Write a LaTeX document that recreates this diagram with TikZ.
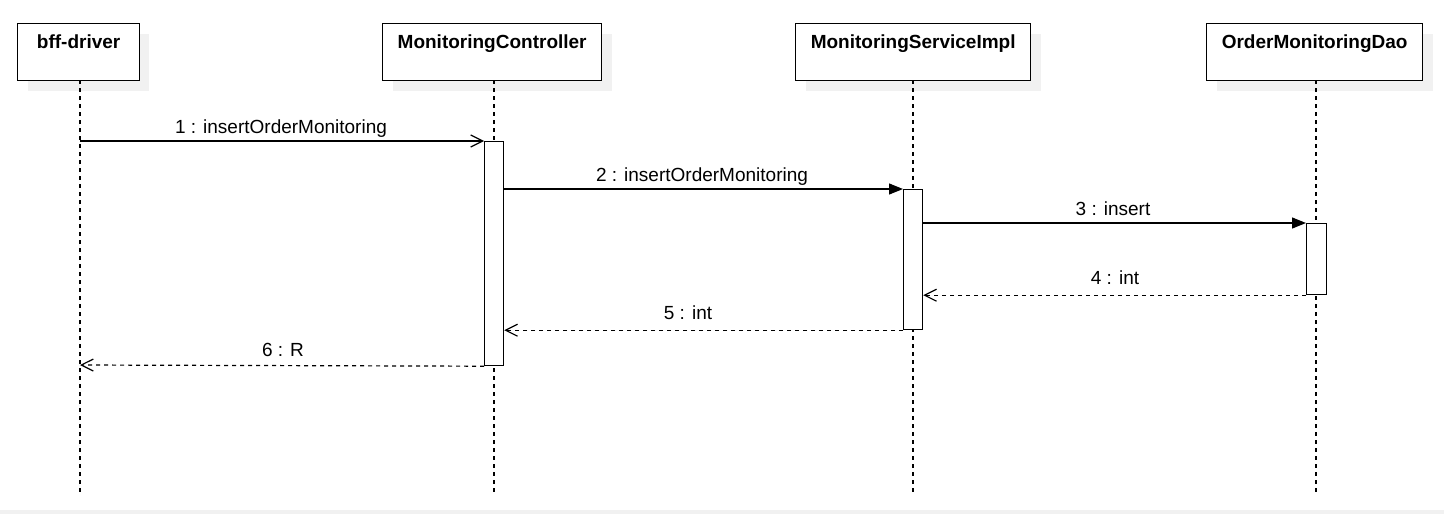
\documentclass[tikz,border=0pt]{standalone}
\usepackage{fontspec}
\setmainfont{Liberation Sans}
\usetikzlibrary{arrows.meta}
\definecolor{shadowgray}{HTML}{F1F1F1}
\tikzset{
  x=1pt, y=-1pt,
  headbox/.style={draw=black, line width=1.3pt, fill=white, minimum height=57pt, anchor=north west, inner sep=0pt},
  headtext/.style={font=\bfseries\fontsize{19}{22}\selectfont, anchor=base, inner sep=0pt},
  lifeline/.style={draw=black, line width=1.2pt, dash pattern=on 4pt off 4pt},
  actbox/.style={draw=black, line width=1.2pt, fill=white},
  callmsg/.style={draw=black, line width=1.2pt, -{Triangle[length=14pt,width=11pt]}},
  syncmsg/.style={draw=black, line width=1.2pt, -{Straight Barb[length=12pt,width=12pt,line width=1.2pt]}},
  retmsg/.style={draw=black, line width=1.2pt, dash pattern=on 4pt off 4pt, -{Straight Barb[length=12pt,width=12pt,line width=1.2pt]}},
  msglabel/.style={font=\fontsize{19}{22}\selectfont, anchor=base, inner sep=0pt},
}
\begin{document}
\begin{tikzpicture}
\useasboundingbox (0,0) rectangle (1444,514);
\fill[white] (0,0) rectangle (1444,514);
\fill[shadowgray] (0,510) rectangle (1444,514);
% shadows
\fill[shadowgray] (28,34) rectangle (149,91);
\fill[shadowgray] (393,34) rectangle (612,91);
\fill[shadowgray] (806,34) rectangle (1041,91);
\fill[shadowgray] (1217,34) rectangle (1433,91);
% heads
\node[headbox, minimum width=122pt] (h1) at (17,23) {};
\node[headbox, minimum width=219pt] (h2) at (382,23) {};
\node[headbox, minimum width=235pt] (h3) at (795,23) {};
\node[headbox, minimum width=216pt] (h4) at (1206,23) {};
\node[headtext] (t1) at ([yshift=-25pt]h1.north) {bff-driver};
\node[headtext] (t2) at ([yshift=-25pt]h2.north) {MonitoringController};
\node[headtext] (t3) at ([yshift=-25pt]h3.north) {MonitoringServiceImpl};
\node[headtext] (t4) at ([yshift=-25pt]h4.north) {OrderMonitoringDao};
% lifeline ends
\coordinate (e1) at (80,493);
\coordinate (e2) at (494,493);
\coordinate (e3) at (913,493);
\coordinate (e4) at (1316,493);
\draw[lifeline] (80,80) -- (e1);
\draw[lifeline] (494,80) -- (e2);
\draw[lifeline] (913,80) -- (e3);
\draw[lifeline] (1316,80) -- (e4);
% activations
\node[actbox, anchor=north west, minimum width=19pt, minimum height=224pt, inner sep=0pt] (a2) at (484,141) {};
\node[actbox, anchor=north west, minimum width=19pt, minimum height=140pt, inner sep=0pt] (a3) at (903,189) {};
\node[actbox, anchor=north west, minimum width=20pt, minimum height=71pt, inner sep=0pt] (a4) at (1306,223) {};
% messages
\coordinate (m1s) at (80,141);
\draw[syncmsg] (m1s) -- (a2.north west);
\node[msglabel] (l1) at (281,133) {1 : insertOrderMonitoring};
\draw[callmsg] ([yshift=-48pt]a2.north east) -- (a3.north west);
\node[msglabel] (l2) at (702,181) {2 : insertOrderMonitoring};
\draw[callmsg] ([yshift=-34pt]a3.north east) -- (a4.north west);
\node[msglabel] (l3) at (1113,215) {3 : insert};
\draw[retmsg] (a4.south west) -- ([yshift=35pt]a3.south east);
\node[msglabel] (l4) at (1115,284) {4 : int};
\draw[retmsg] (a3.south west) -- ([yshift=36pt]a2.south east);
\node[msglabel] (l5) at (688,319) {5 : int};
\coordinate (m6e) at (80,365);
\draw[retmsg] (a2.south west) -- (m6e);
\node[msglabel] (l6) at (283,356) {6 : R};
\end{tikzpicture}
\end{document}
